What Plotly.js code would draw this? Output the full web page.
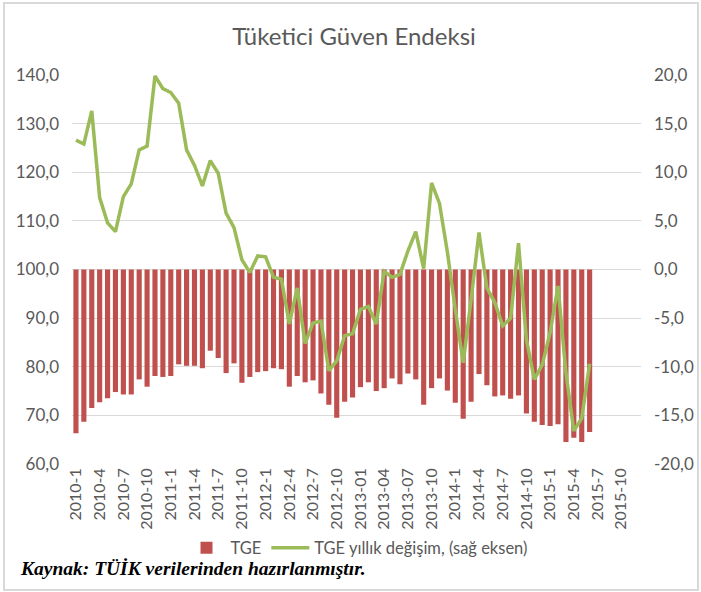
<!DOCTYPE html>
<html>
<head>
<meta charset="utf-8">
<script src="https://cdn.plot.ly/plotly-3.0.1.min.js"></script>
<style>
html,body{margin:0;padding:0;background:#fff;}
#wrap{position:relative;width:701px;height:592px;}
#chart{width:701px;height:592px;}
#frame{position:absolute;left:3px;top:2px;width:692px;height:585px;border:2px solid #d9d9d9;pointer-events:none;}
</style>
</head>
<body>
<div id="wrap"><div id="chart"></div><div id="frame"></div></div>
<script>
// Monthly categories 2010-1 .. 2015-12
const months = [
 "2010-1","2010-2","2010-3","2010-4","2010-5","2010-6","2010-7","2010-8","2010-9","2010-10","2010-11","2010-12",
 "2011-1","2011-2","2011-3","2011-4","2011-5","2011-6","2011-7","2011-8","2011-9","2011-10","2011-11","2011-12",
 "2012-1","2012-2","2012-3","2012-4","2012-5","2012-6","2012-7","2012-8","2012-9","2012-10","2012-11","2012-12",
 "2013-01","2013-02","2013-03","2013-04","2013-05","2013-06","2013-07","2013-08","2013-09","2013-10","2013-11","2013-12",
 "2014-1","2014-2","2014-3","2014-4","2014-5","2014-6","2014-7","2014-8","2014-9","2014-10","2014-11","2014-12",
 "2015-1","2015-2","2015-3","2015-4","2015-5","2015-6","2015-7","2015-8","2015-9","2015-10","2015-11","2015-12"
];
// Tüketici Güven Endeksi (left axis)
const tge = [66.3,68.7,71.5,72.7,73.5,74.8,74.3,74.3,77.4,75.9,78.1,77.9,
 78.1,80.5,80.2,80.2,79.7,83.3,81.8,78.7,80.7,76.7,77.9,78.9,
 79.1,79.7,79.5,75.9,78.1,76.8,77.2,74.5,72.2,69.5,72.8,73.7,
 75.8,76.8,75.0,75.6,77.6,76.4,78.6,77.4,72.2,75.6,77.6,75.1,
 72.6,69.3,72.8,78.5,76.2,73.9,74.1,73.4,74.1,70.4,68.7,68.0,
 67.8,68.2,64.5,65.4,64.5,66.6];
// TGE yıllık değişim (right axis)
const yoy = [13.3,12.9,16.3,7.4,4.8,3.9,7.5,8.8,12.3,12.7,19.9,18.6,
 18.2,17.1,12.3,10.7,8.6,11.2,9.9,5.8,4.3,1.0,-0.3,1.4,
 1.3,-0.8,-1.0,-5.6,-1.9,-7.6,-5.5,-5.3,-10.4,-9.4,-6.8,-6.6,
 -4.1,-3.8,-5.6,-0.2,-0.8,-0.5,1.9,3.9,0.1,8.9,6.8,1.8,
 -4.1,-9.6,-3.1,3.8,-1.9,-3.4,-5.8,-5.0,2.7,-7.2,-11.3,-9.8,
 -6.5,-1.7,-10.6,-16.6,-15.3,-9.7];
const baseLevel = 100;
const xTickVals = ["2010-1","2010-4","2010-7","2010-10","2011-1","2011-4","2011-7","2011-10",
 "2012-1","2012-4","2012-7","2012-10","2013-01","2013-04","2013-07","2013-10",
 "2014-1","2014-4","2014-7","2014-10","2015-1","2015-4","2015-7","2015-10"];
const rightTickVals = [-20,-15,-10,-5,0,5,10,15,20];
const rightTickText = ["-20,0","-15,0","-10,0","-5,0","0,0","5,0","10,0","15,0","20,0"];

const xs = months.slice(0, tge.length);
const font = "Lato, 'Open Sans', sans-serif";
const grey = "#595959";

const traces = [
 {type:"bar", name:"TGE", x:xs, y:tge.map(v=>v-baseLevel), base:baseLevel,
  marker:{color:"#C0504D"}, yaxis:"y", hoverinfo:"skip"},
 {type:"scatter", mode:"lines", name:"TGE yıllık değişim, (sağ eksen)", x:xs, y:yoy,
  line:{color:"#9BBB59", width:3.5}, yaxis:"y2", hoverinfo:"skip"}
];

const layout = {
 width:701, height:592, autosize:false,
 separators:",.",
 paper_bgcolor:"#fff", plot_bgcolor:"#fff",
 margin:{l:72, r:60, t:75, b:128},
 bargap:0.35,
 font:{family:font, color:grey, size:16},
 title:{text:"Tüketici Güven Endeksi", font:{family:font, size:24, color:grey},
  x:0.505, xanchor:"center", y:1-37/592, yanchor:"middle", yref:"container"},
 xaxis:{type:"category", categoryorder:"array", categoryarray:months, range:[-0.5, months.length-0.5],
  tickmode:"array", tickvals:xTickVals, ticktext:xTickVals, tickangle:-90,
  tickfont:{family:font, size:16, color:grey}, showgrid:false, zeroline:false, showline:false, ticks:""},
 yaxis:{range:[60,140], dtick:10, tickformat:".1f", showgrid:true, gridcolor:"#d9d9d9", gridwidth:1,
  zeroline:false, showline:false, ticks:"", ticklabelstandoff:12, tickfont:{family:font, size:17, color:grey}},
 yaxis2:{overlaying:"y", side:"right", range:[-20,20], tickmode:"array", tickvals:rightTickVals, ticktext:rightTickText,
  showgrid:false, zeroline:false, showline:false, ticks:"", ticklabelstandoff:12, tickfont:{family:font, size:17, color:grey}},
 showlegend:true,
 legend:{orientation:"h", x:0.51, xanchor:"center", xref:"container", y:1-548/592, yanchor:"middle", yref:"container",
  font:{family:font, size:16.5, color:grey}, traceorder:"normal", itemwidth:38},
 annotations:[{xref:"paper", yref:"paper", x:(18-72)/569, y:(464-568)/389, xanchor:"left", yanchor:"middle",
  showarrow:false, text:"<b><i>Kaynak: TÜİK verilerinden hazırlanmıştır.</i></b>",
  font:{family:"'Liberation Serif', 'DejaVu Serif', serif", size:19.5, color:"#000"}}]
};

Plotly.newPlot("chart", traces, layout, {staticPlot:true, displayModeBar:false});
</script>
</body>
</html>
